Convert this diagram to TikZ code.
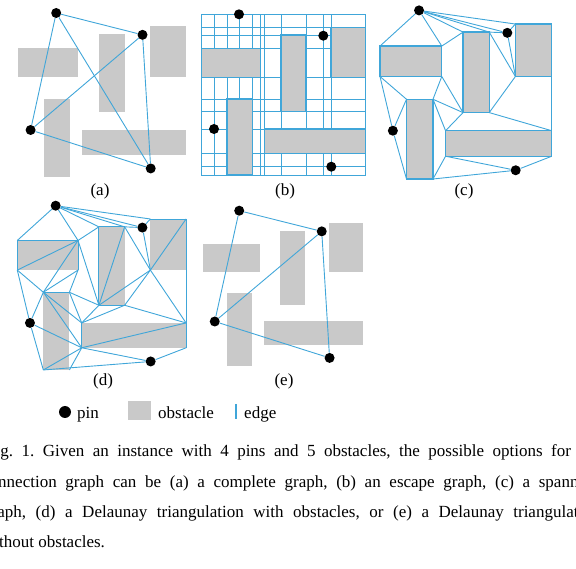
\documentclass[tikz,border=0pt]{standalone}
\usepackage{fontspec}
\setmainfont{Liberation Serif}
\usetikzlibrary{calc,backgrounds}
\definecolor{edgeblue}{HTML}{40A6D9}
\definecolor{obsgray}{HTML}{C9C9C9}
\tikzset{
  edge/.style={draw=edgeblue,line width=0.9pt},
  obst/.style={fill=obsgray},
  obstline/.style={obst,draw=edgeblue,line width=1.4pt},
  pin/.style={circle,fill=black,inner sep=0pt,minimum size=10pt},
  sublabel/.style={font=\fontsize{17}{17}\selectfont,anchor=base,inner sep=0pt},
  captext/.style={font=\fontsize{17}{17}\selectfont\frenchspacing,anchor=base west,inner sep=0pt},
}
\newcommand{\pinsobst}{%
  \coordinate (F-nw) at (0,0);
  \coordinate (F-se) at (164,160.7);
  \foreach \o/\xa/\ya/\xb/\yb in {H1/0/34/59/63,V1/79.3/20.7/104.3/97.4,R/129.3/13/164/63,V2/25.3/84.7/50.6/160.7,H2/62.6/114.7/164/139}{
    \coordinate (\o-nw) at (\xa,\ya); \coordinate (\o-ne) at (\xb,\ya);
    \coordinate (\o-se) at (\xb,\yb); \coordinate (\o-sw) at (\xa,\yb);
  }
  \foreach \p/\x/\y in {P1/37.3/0,P2/121.6/21.4,P3/12.3/114.7,P4/129.6/152.4}
    \node[pin] (\p) at (\x,\y) {};
}
\newcommand{\obstacles}[1]{%
  \foreach \o in {H1,V1,R,V2,H2} \path[#1] (\o-nw) rectangle (\o-se);
}

\begin{document}
\begin{tikzpicture}[x=1pt,y=-1pt]
  \useasboundingbox (0,0) rectangle (576,569);
  \clip (0,0) rectangle (576,569);
  \begin{scope}[shift={(18,13)},xscale=1.024,yscale=1.02]
    \pinsobst
    \begin{scope}[on background layer] \obstacles{obst} \end{scope}
    \foreach \a/\b in {P1/P2,P1/P3,P1/P4,P2/P3,P2/P4,P3/P4} \draw[edge] (\a) -- (\b);
  \end{scope}
  \begin{scope}[shift={(201.7,14.3)}]
    \pinsobst
    \begin{scope}[on background layer]
      \draw[edge] (F-nw) rectangle (F-se);
      \foreach \n in {P1,P2,P3,H1-ne,V1-nw,V1-ne,R-nw,V2-nw,V2-ne,H2-nw} \draw[edge] (\n |- F-nw) -- (\n |- F-se);
      \foreach \n in {P2,P4,R-nw,H1-nw,H1-sw,V2-nw,V1-sw,H2-nw,H2-sw} \draw[edge] (\n -| F-nw) -- (\n -| F-se);
      \obstacles{obstline}
    \end{scope}
  \end{scope}
  \begin{scope}[shift={(380,10.4)},xscale=1.047,yscale=1.049]
    \pinsobst
    \begin{scope}[on background layer] \obstacles{obstline} \end{scope}
    \foreach \a/\b in {P1/H1-nw,P1/H1-ne,P1/V1-nw,P1/V1-ne,P1/P2,P1/R-nw,H1-ne/V1-nw,P2/V1-ne,P2/R-nw,P2/R-sw,V1-ne/R-sw,V1-se/R-sw,R-se/H2-ne,V1-se/H2-ne,V1-sw/H2-nw,V1-sw/V2-ne,V1-sw/H1-se,H1-se/V2-ne,H1-sw/V2-nw,H1-sw/P3,V2-nw/P3,P3/V2-sw,V2-ne/H2-nw,V2-se/H2-sw,V2-se/P4,H2-sw/P4,H2-se/P4}
      \draw[edge] (\a) -- (\b);
  \end{scope}
  \begin{scope}[shift={(17.3,205.7)},xscale=1.029,yscale=1.022]
    \pinsobst
    \begin{scope}[on background layer] \obstacles{obst} \end{scope}
    \foreach \a/\b in {P1/H1-nw,P1/H1-ne,P1/V1-nw,P1/V1-ne,P1/P2,P1/R-nw,H1-nw/H1-ne,H1-nw/H1-sw,H1-ne/H1-se,H1-ne/H1-sw,H1-ne/V1-nw,H1-ne/V1-sw,H1-ne/V2-nw,H1-sw/V2-nw,H1-sw/P3,H1-se/V2-nw,H1-se/V2-ne,V1-nw/V1-ne,V1-nw/V1-sw,V1-ne/V1-sw,V1-ne/P2,V1-ne/R-sw,P2/R-nw,P2/R-sw,R-nw/R-ne,R-ne/R-sw,R-ne/R-se,R-se/H2-ne,R-sw/H2-ne,R-sw/V1-se,R-sw/V1-sw,V1-sw/V1-se,V1-sw/V2-ne,V1-sw/H2-nw,V1-se/H2-ne,V1-se/H2-nw,V2-nw/H2-nw,V2-nw/V2-ne,V2-ne/H2-nw,V2-nw/H2-sw,V2-nw/P3,P3/V2-sw,P3/H2-sw,V2-sw/H2-sw,V2-se/H2-sw,V2-sw/P4,H2-sw/P4,H2-se/P4,H2-sw/H2-ne,H2-nw/H2-sw,H2-ne/H2-se}
      \draw[edge] (\a) -- (\b);
  \end{scope}
  \begin{scope}[shift={(202.7,210.7)},xscale=0.979,yscale=0.966]
    \pinsobst
    \begin{scope}[on background layer] \obstacles{obst} \end{scope}
    \foreach \a/\b in {P1/P2,P1/P3,P2/P3,P2/P4,P3/P4} \draw[edge] (\a) -- (\b);
  \end{scope}
  \foreach \l/\x/\y in {a/100/196,b/285/196,c/464/196,d/103/386,e/284/386}
    \node[sublabel] (lab-\l) at (\x,\y) {(\l)};
  \node[pin,minimum size=12pt] (leg-pin) at (65,412) {};
  \node[captext] (leg-pintext) at (77,418) {pin};
  \node[obst,minimum width=23pt,minimum height=19pt,inner sep=0pt] (leg-obst) at (139.5,410.5) {};
  \node[captext] (leg-obsttext) at (158,418) {obstacle};
  \coordinate (leg-edgetop) at (236,404);
  \coordinate (leg-edgebot) at (236,419);
  \draw[edge,line width=1.6pt] (leg-edgetop) -- (leg-edgebot);
  \node[captext] (leg-edgetext) at (244,418) {edge};
  \node[captext] (cap1) at (-14,456) {\makebox[614pt][s]{Fig. 1. Given an instance with 4 pins and 5 obstacles, the possible options for the}};
  \node[captext] (cap2) at (-18,487) {\makebox[618pt][s]{connection graph can be (a) a complete graph, (b) an escape graph, (c) a spanning}};
  \node[captext] (cap3) at (-17,517) {\makebox[617pt][s]{graph, (d) a Delaunay triangulation with obstacles, or (e) a Delaunay triangulation}};
  \node[captext] (cap4) at (-18,547) {without obstacles.};
\end{tikzpicture}
\end{document}
